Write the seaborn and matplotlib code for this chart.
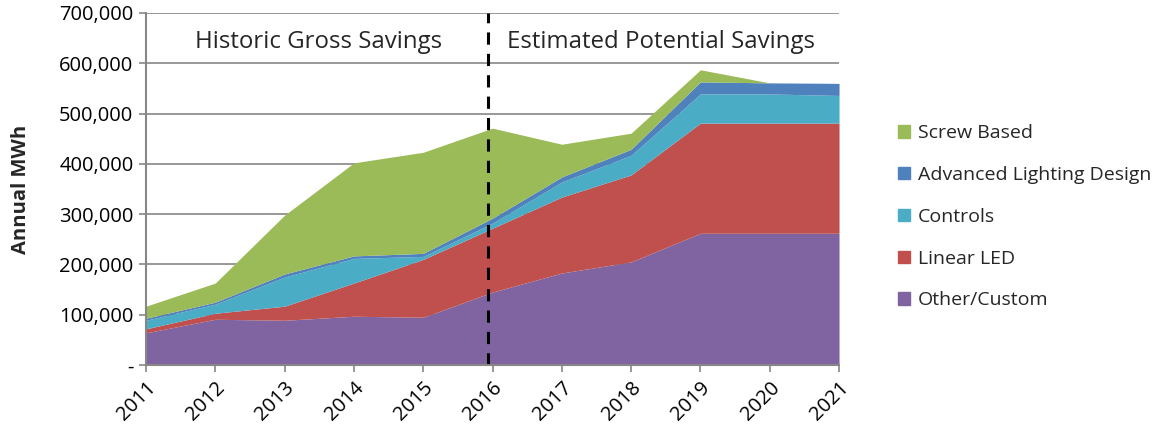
import matplotlib
matplotlib.use('Agg')
from matplotlib import pyplot as plt
from matplotlib.patches import Patch
from matplotlib.ticker import FuncFormatter
import seaborn as sns

years = [2011, 2012, 2013, 2014, 2015, 2016, 2017, 2018, 2019, 2020, 2021]
other_custom = [64000, 91000, 89000, 97000, 95000, 145000, 183000, 205000, 262000, 262000, 262000]
linear_led = [8000, 12000, 28000, 66000, 115000, 127000, 151000, 173000, 219000, 219000, 219000]
controls = [17000, 18000, 58000, 49000, 6000, 10000, 30000, 39000, 58000, 58000, 55000]
advanced_lighting = [4000, 4000, 6000, 5000, 6000, 10000, 10000, 12000, 24000, 22000, 24000]
screw_based = [24000, 38000, 117000, 185000, 201000, 179000, 65000, 32000, 24000, 0, 0]

series_names = ['Other/Custom', 'Linear LED', 'Controls', 'Advanced Lighting Design', 'Screw Based']
series_colors = ['#8064A2', '#C0504D', '#4BACC6', '#4F81BD', '#9BBB59']

sns.set_theme(style='white')
plt.rcParams['font.family'] = ['Open Sans', 'DejaVu Sans']

fig = plt.figure(figsize=(11.65, 4.32), dpi=100)
ax = fig.add_axes([0.1253, 0.155, 0.5949, 0.815])

ax.stackplot(years, other_custom, linear_led, controls, advanced_lighting, screw_based,
             colors=series_colors, linewidth=0)

ax.set_xlim(2011, 2021)
ax.set_ylim(0, 700000)
ax.set_yticks(range(0, 700001, 100000))
ax.yaxis.set_major_formatter(FuncFormatter(lambda v, _: '-' if v == 0 else f'{int(v):,}'))
ax.set_xticks(years)
ax.set_xticklabels([str(y) for y in years], rotation=45, ha='right', rotation_mode='anchor')
ax.tick_params(axis='both', labelsize=14.5, colors='#000000', length=5, width=1.2, direction='out',
               bottom=True, left=True, pad=4)
ax.tick_params(axis='both', color='#868686')
ax.grid(True, axis='y', color='#868686', linewidth=1.2)
ax.set_axisbelow(True)
sns.despine(ax=ax)
for side in ['left', 'bottom']:
    ax.spines[side].set_color('#868686')
    ax.spines[side].set_linewidth(1.5)

ax.set_ylabel('Annual MWh', fontsize=14.5, fontweight='bold', labelpad=20)

# divider between historic and estimated savings
ax.axvline(2015.93, color='black', linestyle=(0, (4, 3)), linewidth=2.2)
ax.text(2013.49, 642000, 'Historic Gross Savings', fontsize=17.3, ha='center', va='center')
ax.text(2018.43, 642000, 'Estimated Potential Savings', fontsize=17.3, ha='center', va='center')

handles = [Patch(color=c, label=n) for c, n in zip(series_colors, series_names)][::-1]
fig.legend(handles=handles, loc='center left', bbox_to_anchor=(0.756, 0.498), frameon=False,
           fontsize=14, handlelength=0.6, handleheight=0.6, handletextpad=0.4, labelspacing=1.22)

fig.savefig('out.png', dpi=100)
